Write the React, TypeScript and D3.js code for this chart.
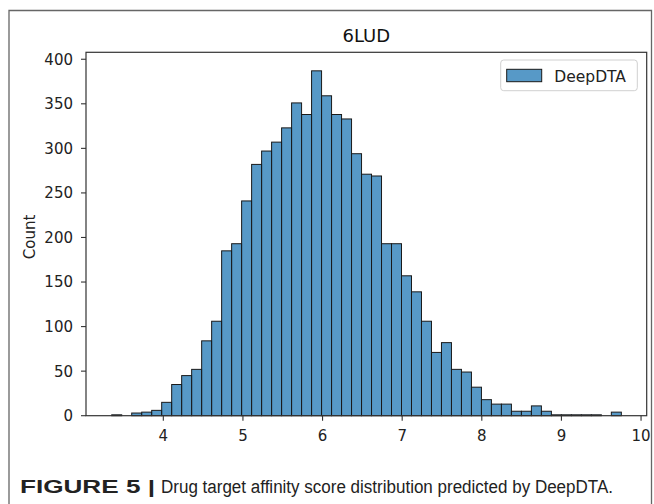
import React from "react";
import * as d3 from "d3";

const title = "6LUD";
const seriesName = "DeepDTA";
const yLabel = "Count";
const binStart = 3.352;
const binWidth = 0.1255;
const counts = [
  1, 0, 3, 4, 6, 15, 35, 45, 52, 84, 106, 185, 193, 241, 282, 297, 307, 323, 351, 338,
  387, 359, 338, 333, 294, 271, 269, 193, 193, 157, 139, 106, 71, 82, 52, 49, 32, 18, 13, 13,
  5, 5, 11, 5, 1, 1, 1, 1, 1, 0, 4,
];
const xTicks = [4, 5, 6, 7, 8, 9, 10];
const yTicks = [0, 50, 100, 150, 200, 250, 300, 350, 400];
const captionBold = "FIGURE 5 |";
const captionText = "Drug target affinity score distribution predicted by DeepDTA.";

const W = 654;
const H = 504;
const left = 86, right = 646.7, top = 52.3, bottom = 415.7;

export default function App() {
  const x = d3.scaleLinear().domain([3.029, 10.071]).range([left, right]);
  const y = d3.scaleLinear().domain([0, 407.8]).range([bottom, top]);
  const bins = counts.map((c, i) => ({ x0: binStart + i * binWidth, x1: binStart + (i + 1) * binWidth, c }));
  const font = "DejaVu Sans, sans-serif";
  const fill = "#1f77b4";
  return (
    <svg width={W} height={H} style={{ position: "absolute", left: 0, top: 0, background: "#fff" }}>
      <rect x={0} y={0} width={W} height={H} fill="#fff" />
      {/* outer figure frame */}
      <path d={`M9,${H + 2} V10.5 H651.5 V${H + 2}`} fill="none" stroke="#666" strokeWidth={1.3} />
      {/* bars */}
      {bins.filter(b => b.c > 0).map((b, i) => (
        <rect key={i} x={x(b.x0)} y={y(b.c)} width={x(b.x1) - x(b.x0)} height={y(0) - y(b.c)}
          fill={fill} fillOpacity={0.75} stroke="#1a1a1a" strokeWidth={1} />
      ))}
      {/* spines */}
      <rect x={left} y={top} width={right - left} height={bottom - top} fill="none" stroke="#333" strokeWidth={1.2} />
      {/* y ticks */}
      {yTicks.map(t => (
        <g key={t}>
          <line x1={left - 5} x2={left} y1={y(t)} y2={y(t)} stroke="#333" strokeWidth={1.1} />
          <text x={left - 13} y={y(t)} dy="0.36em" textAnchor="end" fontFamily={font} fontSize={15} fill="#222">{t}</text>
        </g>
      ))}
      {/* x ticks */}
      {xTicks.map(t => (
        <g key={t}>
          <line x1={x(t)} x2={x(t)} y1={bottom} y2={bottom + 5} stroke="#333" strokeWidth={1.1} />
          <text x={x(t)} y={bottom + 25} textAnchor="middle" fontFamily={font} fontSize={15} fill="#222">{t}</text>
        </g>
      ))}
      {/* title */}
      <text x={(left + right) / 2} y={42} textAnchor="middle" fontFamily={font} fontSize={18} fill="#111">{title}</text>
      {/* y label */}
      <text transform={`translate(35,237) rotate(-90)`} textAnchor="middle" fontFamily={font} fontSize={15} fill="#222">{yLabel}</text>
      {/* legend */}
      <rect x={500.7} y={60} width={136.6} height={30.7} rx={3} fill="#fff" fillOpacity={0.8} stroke="#d0d0d0" strokeWidth={1} />
      <rect x={506.7} y={69.3} width={35} height={12.4} fill={fill} fillOpacity={0.75} stroke="#1a1a1a" strokeWidth={1} />
      <text x={554.3} y={81.8} fontFamily={font} fontSize={15.5} fill="#222">{seriesName}</text>
      {/* caption */}
      <text x={20} y={493} fontFamily="Liberation Sans, Arial, sans-serif" fontWeight="bold" fontSize={18} fill="#222"
        textLength={135} lengthAdjust="spacingAndGlyphs">{captionBold}</text>
      <text x={161} y={493} fontFamily="Liberation Sans, Arial, sans-serif" fontSize={18} fill="#222"
        textLength={452} lengthAdjust="spacingAndGlyphs">{captionText}</text>
    </svg>
  );
}
